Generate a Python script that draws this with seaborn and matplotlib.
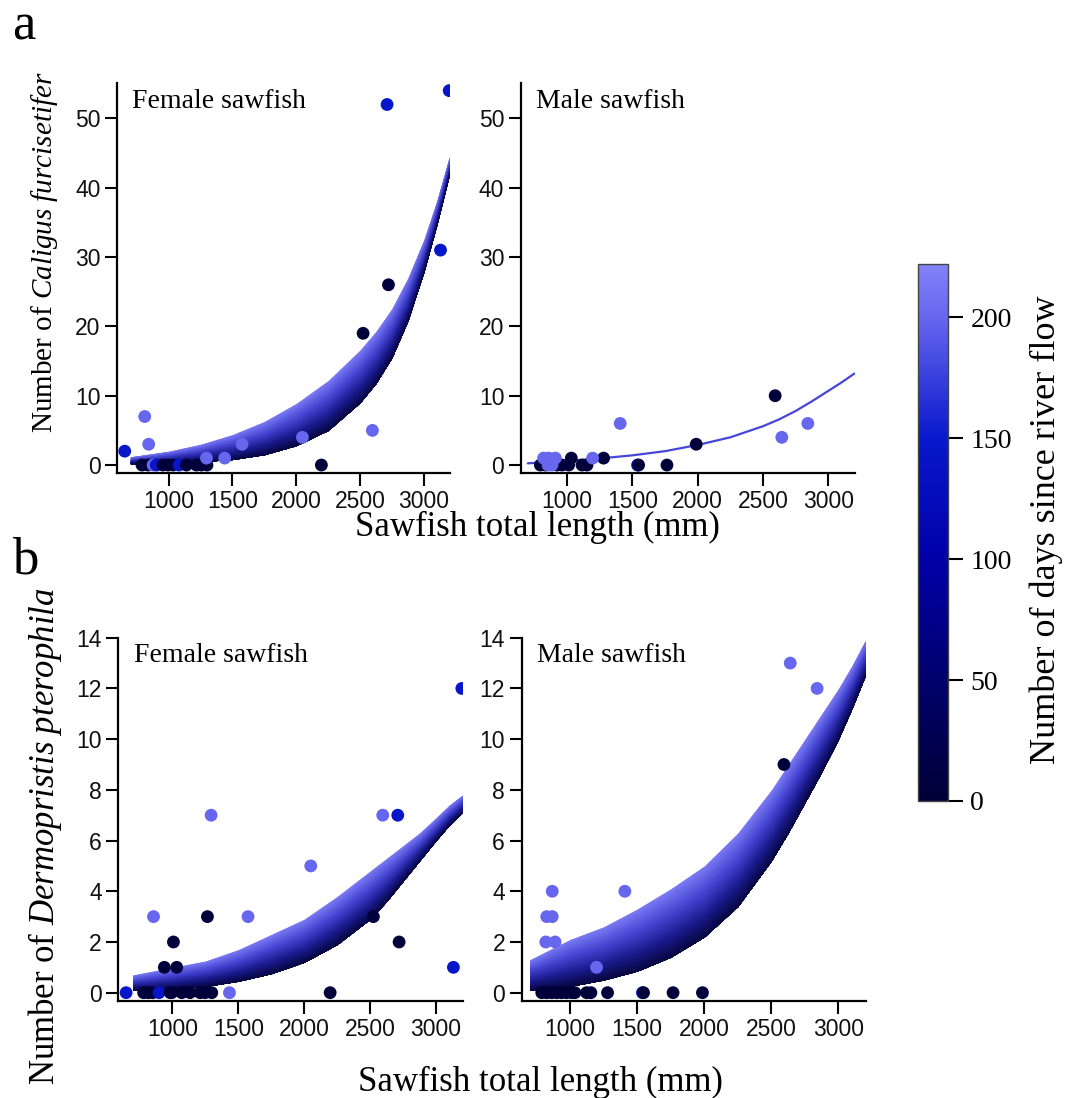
import numpy as np
import matplotlib
matplotlib.use("Agg")
import matplotlib.pyplot as plt
import seaborn as sns
from matplotlib.colors import LinearSegmentedColormap, Normalize
from matplotlib.cm import ScalarMappable

# colour classes (days since river flow) seen on the points
D, B, L = 5, 145, 200

# ---- panel a: Caligus furcisetifer ----
cal_f_len = [655, 812, 843, 791, 838, 877, 903, 955, 995, 1034, 1081, 1139, 1217, 1256, 1300,
             1296, 1439, 1575, 2048, 2197, 2524, 2597, 2723, 2712, 3131, 3199]
cal_f_cnt = [2, 7, 3, 0, 0, 0, 0, 0, 0, 0, 0, 0, 0, 0, 0,
             1, 1, 3, 4, 0, 19, 5, 26, 52, 31, 54]
cal_f_day = [B, L, L, D, D, L, B, D, D, D, B, D, D, D, D,
             L, L, L, L, D, D, L, D, B, B, B]

cal_m_len = [1540, 796, 834, 923, 962, 1013, 1115, 1153, 1548, 1765, 855, 885, 821, 859, 911,
             1033, 1280, 1196, 1407, 1989, 2593, 2644, 2843]
cal_m_cnt = [0, 0, 0, 0, 0, 0, 0, 0, 0, 0, 0, 0, 1, 1, 1,
             1, 1, 1, 6, 3, 10, 4, 6]
cal_m_day = [B, D, D, D, D, D, D, D, D, D, L, L, L, L, L,
             D, D, L, L, D, D, L, L]

# ---- panel b: Dermopristis pterophila ----
der_f_len = [3196, 1294, 2596, 2710, 2050, 857, 1266, 1574, 2525, 1008, 2720, 939, 1033, 3132,
             649, 782, 818, 851, 899, 983, 995, 1071, 1134, 1210, 1248, 1299, 1433, 2197]
der_f_cnt = [12, 7, 7, 7, 5, 3, 3, 3, 3, 2, 2, 1, 1, 1,
             0, 0, 0, 0, 0, 0, 0, 0, 0, 0, 0, 0, 0, 0]
der_f_day = [B, L, L, B, L, L, D, L, D, D, D, D, D, B,
             B, D, D, D, B, D, D, D, D, D, D, D, L, D]

der_m_len = [2641, 2841, 2594, 868, 1409, 827, 868, 820, 889, 1198,
             790, 827, 864, 901, 938, 975, 1013, 1037, 1124, 1156, 1280, 1540, 1548, 1768, 1987]
der_m_cnt = [13, 12, 9, 4, 4, 3, 3, 2, 2, 1,
             0, 0, 0, 0, 0, 0, 0, 0, 0, 0, 0, 0, 0, 0, 0]
der_m_day = [L, L, D, L, L, L, L, L, L, L,
             D, D, D, D, D, D, D, D, D, D, D, B, D, D, D]

# fitted curves: edges of the prediction band (light = long since flow, dark = recent)
fit_len = [700, 850, 1000, 1250, 1500, 1750, 2000, 2250, 2500, 2625, 2750, 2875, 3000, 3100, 3200]
cal_f_light = [1.2, 1.6, 2.0, 3.0, 4.4, 6.3, 8.9, 12.2, 16.6, 19.3, 22.6, 27.0, 32.5, 38.0, 44.5]
cal_f_dark = [0.2, 0.25, 0.3, 0.5, 0.8, 1.5, 2.8, 5.0, 9.0, 11.8, 15.5, 20.8, 27.8, 34.5, 41.8]
cal_m_fit = [0.25, 0.42, 0.6, 0.95, 1.4, 2.0, 2.9, 4.0, 5.6, 6.6, 7.8, 9.2, 10.7, 11.9, 13.2]
der_f_light = [0.7, 0.85, 1.0, 1.25, 1.7, 2.3, 2.9, 3.8, 4.8, 5.3, 5.8, 6.3, 6.9, 7.4, 7.8]
der_f_dark = [0.1, 0.12, 0.15, 0.25, 0.45, 0.75, 1.2, 1.9, 2.9, 3.6, 4.4, 5.2, 6.0, 6.6, 7.1]
der_m_light = [1.3, 1.7, 2.1, 2.6, 3.3, 4.1, 5.0, 6.3, 8.0, 9.0, 10.0, 11.0, 12.0, 12.9, 13.9]
der_m_dark = [0.1, 0.17, 0.25, 0.5, 0.85, 1.4, 2.2, 3.4, 5.2, 6.3, 7.5, 8.7, 10.0, 11.2, 12.5]

sns.set_style("ticks")
plt.rcParams["font.family"] = ["Liberation Sans", "DejaVu Sans"]
plt.rcParams["text.color"] = "black"
plt.rcParams["mathtext.fontset"] = "custom"
plt.rcParams["mathtext.rm"] = "Liberation Serif"
plt.rcParams["mathtext.it"] = "Liberation Serif:italic"
SERIF = ["Liberation Serif", "DejaVu Serif"]

days_cmap = LinearSegmentedColormap.from_list(
    "days", [(0, "#000036"), (50 / 222, "#00006c"), (100 / 222, "#0000a8"),
             (150 / 222, "#0818cc"), (200 / 222, "#6666ee"), (1, "#8282fa")])
norm = Normalize(0, 222)
band_cmap = LinearSegmentedColormap.from_list(
    "band", [(0, "#06063e"), (0.3, "#1a1a8c"), (0.65, "#4444d2"), (1, "#7a7af4")])

fig = plt.figure(figsize=(10.67, 10.98), dpi=100)
ax_cf = fig.add_axes([0.1097, 0.5692, 0.312, 0.3552])
ax_cm = fig.add_axes([0.4883, 0.5692, 0.313, 0.3552])
ax_df = fig.add_axes([0.1109, 0.0883, 0.3228, 0.3309])
ax_dm = fig.add_axes([0.489, 0.0883, 0.3226, 0.3309])
cax = fig.add_axes([0.8604, 0.2705, 0.0281, 0.489])


def band(ax, light, dark, n=80):
    # stacked fills from the light edge down to the dark edge, no seams
    lo = np.array(dark)
    hi = np.array(light)
    for i in range(n, 0, -1):
        t = i / n
        ax.fill_between(fit_len, lo, lo + (hi - lo) * t, color=band_cmap(t), lw=0, zorder=1)


def points(ax, x, y, d):
    sns.scatterplot(x=x, y=y, hue=d, palette=days_cmap, hue_norm=norm, s=85,
                    linewidth=0, legend=False, ax=ax, zorder=3)


band(ax_cf, cal_f_light, cal_f_dark)
points(ax_cf, cal_f_len, cal_f_cnt, cal_f_day)
sns.lineplot(x=fit_len, y=cal_m_fit, color="#4646dc", lw=1.6, ax=ax_cm, zorder=1)
points(ax_cm, cal_m_len, cal_m_cnt, cal_m_day)
band(ax_df, der_f_light, der_f_dark)
points(ax_df, der_f_len, der_f_cnt, der_f_day)
band(ax_dm, der_m_light, der_m_dark)
points(ax_dm, der_m_len, der_m_cnt, der_m_day)

for ax, xl, yl, yt, title in [
        (ax_cf, (595, 3205), (-1.15, 55.1), range(0, 51, 10), "Female sawfish"),
        (ax_cm, (648, 3204), (-1.15, 55.1), range(0, 51, 10), "Male sawfish"),
        (ax_df, (590, 3203), (-0.33, 14), range(0, 15, 2), "Female sawfish"),
        (ax_dm, (641, 3205), (-0.33, 14), range(0, 15, 2), "Male sawfish")]:
    ax.set_xlim(*xl)
    ax.set_ylim(*yl)
    ax.set_xticks(range(1000, 3001, 500))
    ax.set_yticks(list(yt))
    ax.set_xlabel("")
    ax.set_ylabel("")
    sns.despine(ax=ax)
    for s in ("left", "bottom"):
        ax.spines[s].set_linewidth(1.6)
        ax.spines[s].set_color("black")
    ax.tick_params(direction="out", length=9, width=1.5, labelsize=16.5, pad=3,
                   colors="black", labelcolor="#111111")
    ax.text(0.045, 0.985, title, transform=ax.transAxes, ha="left", va="top",
            fontsize=20, family=SERIF, color="black")

# colour bar
cb = fig.colorbar(ScalarMappable(norm=norm, cmap=days_cmap), cax=cax, ticks=[0, 50, 100, 150, 200])
cb.outline.set_linewidth(1.0)
cb.outline.set_edgecolor("#444444")
cax.tick_params(length=11, width=1.5, pad=5, labelsize=20, colors="black")
for t in cax.get_yticklabels():
    t.set_family(SERIF)
fig.text(1046 / 1067, 1 - 530 / 1098, "Number of days since river flow", rotation=90,
         ha="center", va="center", fontsize=26, family=SERIF)

# axis titles
fig.text(45 / 1067, 1 - 252 / 1098, r"Number of $\mathit{Caligus\ furcisetifer}$", rotation=90,
         ha="center", va="center", fontsize=21, family=SERIF)
fig.text(45 / 1067, 1 - 836 / 1098, r"Number of $\mathit{Dermopristis\ pterophila}$", rotation=90,
         ha="center", va="center", fontsize=25, family=SERIF)
fig.text(537 / 1067, 1 - 527 / 1098, "Sawfish total length (mm)", ha="center", va="center",
         fontsize=25, family=SERIF)
fig.text(540 / 1067, 1 - 1082 / 1098, "Sawfish total length (mm)", ha="center", va="center",
         fontsize=25, family=SERIF)
fig.text(12 / 1067, 1 - 40 / 1098, "a", ha="left", va="baseline", fontsize=38, family=SERIF)
fig.text(12 / 1067, 1 - 573 / 1098, "b", ha="left", va="baseline", fontsize=38, family=SERIF)

fig.savefig("out.png", dpi=100)
